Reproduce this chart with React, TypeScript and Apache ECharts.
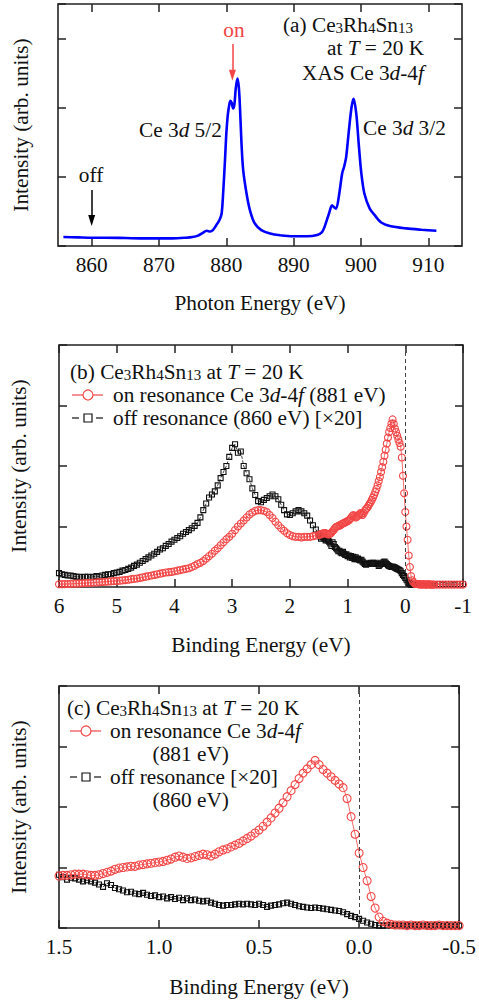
import React, { useEffect, useRef } from "react";
import * as echarts from "echarts";

const FONT = '"Liberation Serif", "Times New Roman", Times, serif';
const RED = "#f24646";
const BLUE = "#0000ff";
const INK = "#111111";

// ---------- (a) XAS Ce 3d-4f ----------
const xasEnergy = [855.8, 858, 860, 862, 865, 868, 870, 872, 874, 875, 875.8, 876.5, 877.1, 877.6, 878.0, 878.5, 879.0, 879.3, 879.5, 879.8, 880.0, 880.2, 880.4, 880.6, 880.8, 881.0, 881.2, 881.4, 881.65, 881.85, 882.0, 882.25, 882.5, 883.0, 883.5, 884.2, 885.2, 886.5, 888, 890, 892, 893.5, 894.2, 894.6, 895.25, 895.7, 896.0, 896.3, 896.7, 897.2, 897.5, 897.8, 898.2, 898.6, 898.9, 899.3, 899.7, 900.05, 900.5, 901.3, 902.0, 903.0, 904.3, 906.7, 909, 911.2];
const xasIntensity = [0.13, 0.125, 0.12, 0.12, 0.115, 0.11, 0.11, 0.11, 0.12, 0.13, 0.15, 0.19, 0.22, 0.21, 0.23, 0.30, 0.38, 0.47, 0.72, 1.24, 1.63, 1.88, 2.02, 2.10, 2.07, 1.99, 2.05, 2.28, 2.42, 2.30, 2.06, 1.49, 1.10, 0.76, 0.52, 0.33, 0.23, 0.18, 0.155, 0.14, 0.14, 0.16, 0.20, 0.28, 0.47, 0.59, 0.56, 0.54, 0.71, 1.05, 1.15, 1.29, 1.67, 2.01, 2.13, 1.91, 1.43, 1.05, 0.76, 0.54, 0.45, 0.34, 0.29, 0.255, 0.235, 0.22];
const xasTicks = [860, 870, 880, 890, 900, 910];
const onArrow = { energy: 880.9, from: 2.92, to: 2.47 };
const offArrow = { energy: 860, from: 0.81, to: 0.37 };

// ---------- (b), (c) valence-band PES ----------
// sampling grid of binding energy (eV), decreasing
const wideStart = 6.0;
const wideStep = 0.05;
const fineStart = 1.5;
const fineStep = 0.02;
const tailStart = -0.55;
const tailStep = 0.05;

const onWide = [
  0.045, 0.047, 0.049, 0.05, 0.052, 0.055, 0.057, 0.06, 0.062, 0.065,
  0.068, 0.07, 0.073, 0.076, 0.08, 0.083, 0.087, 0.09, 0.094, 0.098,
  0.10, 0.105, 0.11, 0.115, 0.12, 0.13, 0.135, 0.14, 0.15, 0.16,
  0.17, 0.18, 0.19, 0.20, 0.21, 0.22, 0.23, 0.24, 0.245, 0.25,
  0.26, 0.27, 0.28, 0.29, 0.30, 0.31, 0.33, 0.35, 0.38, 0.40,
  0.43, 0.47, 0.51, 0.55, 0.60, 0.64, 0.69, 0.74, 0.79, 0.83,
  0.88, 0.94, 1.00, 1.05, 1.10, 1.15, 1.20, 1.23, 1.26, 1.27,
  1.27, 1.26, 1.24, 1.19, 1.14, 1.08, 1.02, 0.97, 0.93, 0.89,
  0.86, 0.84, 0.83, 0.83, 0.82, 0.83, 0.83, 0.83, 0.84, 0.85,
];
const offWide = [
  0.23, 0.21, 0.20, 0.19, 0.19, 0.18, 0.17, 0.17, 0.16, 0.17,
  0.17, 0.16, 0.17, 0.18, 0.17, 0.19, 0.20, 0.21, 0.21, 0.23,
  0.24, 0.25, 0.27, 0.28, 0.30, 0.32, 0.35, 0.37, 0.40, 0.43,
  0.46, 0.49, 0.52, 0.55, 0.58, 0.62, 0.64, 0.68, 0.71, 0.75,
  0.78, 0.81, 0.84, 0.88, 0.91, 0.94, 0.97, 1.01, 1.06, 1.15,
  1.27, 1.38, 1.48, 1.53, 1.58, 1.68, 1.80, 1.90, 2.00, 2.15,
  2.30, 2.36, 2.22, 2.24, 2.00, 1.88, 1.78, 1.63, 1.52, 1.42,
  1.40, 1.44, 1.47, 1.50, 1.53, 1.50, 1.45, 1.36, 1.27, 1.20,
  1.19, 1.22, 1.25, 1.27, 1.25, 1.22, 1.18, 1.10, 1.02, 0.95,
];
const onFine = [
  0.86, 0.87, 0.87, 0.88, 0.89, 0.89, 0.89, 0.88, 0.87, 0.87,
  0.88, 0.90, 0.92, 0.94, 0.97, 0.99, 1.00, 1.01, 1.02, 1.02,
  1.04, 1.05, 1.06, 1.07, 1.08, 1.09, 1.10, 1.12, 1.14, 1.17,
  1.19, 1.17, 1.15, 1.16, 1.18, 1.20, 1.22, 1.21, 1.19, 1.22,
  1.26, 1.29, 1.31, 1.34, 1.37, 1.40, 1.44, 1.48, 1.52, 1.57,
  1.62, 1.68, 1.75, 1.82, 1.90, 1.98, 2.07, 2.17, 2.27, 2.37,
  2.47, 2.56, 2.63, 2.70, 2.77, 2.70, 2.62, 2.56, 2.50, 2.44,
  2.38, 2.32, 2.14, 1.84, 1.55, 1.24, 1.00, 0.78, 0.52, 0.33,
  0.18, 0.11, 0.08, 0.06, 0.05, 0.05, 0.05, 0.04, 0.05, 0.04,
  0.04, 0.05, 0.04, 0.04, 0.04, 0.05, 0.04, 0.04, 0.04, 0.04,
  0.04,
];
const offFine = [
  0.88, 0.84, 0.80, 0.83, 0.82, 0.80, 0.77, 0.79, 0.77, 0.75,
  0.72, 0.68, 0.74, 0.71, 0.66, 0.64, 0.62, 0.59, 0.60, 0.57,
  0.56, 0.58, 0.55, 0.53, 0.54, 0.51, 0.52, 0.49, 0.51, 0.48,
  0.50, 0.46, 0.49, 0.46, 0.47, 0.45, 0.44, 0.45, 0.42, 0.40,
  0.38, 0.37, 0.38, 0.38, 0.39, 0.40, 0.39, 0.40, 0.39, 0.38,
  0.40, 0.38, 0.35, 0.37, 0.38, 0.39, 0.41, 0.42, 0.40, 0.38,
  0.36, 0.35, 0.34, 0.33, 0.34, 0.33, 0.32, 0.31, 0.30, 0.29,
  0.28, 0.26, 0.23, 0.20, 0.18, 0.15, 0.12, 0.09, 0.07, 0.05,
  0.04, 0.04, 0.05, 0.04, 0.05, 0.05, 0.04, 0.05, 0.04, 0.05,
  0.05, 0.04, 0.05, 0.04, 0.05, 0.05, 0.04, 0.05, 0.04, 0.05,
  0.04,
];
const onTail = [0.04, 0.04, 0.04, 0.04, 0.04, 0.04, 0.04, 0.04, 0.04, 0.04];
const offTail = [0.05, 0.05, 0.04, 0.05, 0.05, 0.05, 0.04, 0.05, 0.05, 0.05];

const bTicksInterval = 1;
const cTicksInterval = 0.5;

function onGrid(start: number, step: number, values: number[]) {
  return values.map((v, i) => [Math.round((start - i * step) * 1000) / 1000, v]);
}
const onData = [
  ...onGrid(wideStart, wideStep, onWide),
  ...onGrid(fineStart, fineStep, onFine),
  ...onGrid(tailStart, tailStep, onTail),
];
const offData = [
  ...onGrid(wideStart, wideStep, offWide),
  ...onGrid(fineStart, fineStep, offFine),
  ...onGrid(tailStart, tailStep, offTail),
];
const inC = (p: number[]) => p[0] <= 1.5 + 1e-9 && p[0] >= -0.5 - 1e-9;

const xasData = xasEnergy.map((e, i) => [e, xasIntensity[i]]);

// ---------- text helpers ----------
const FS = 21.3;
function makeRich(lh: number) {
  return {
    n: { fontFamily: FONT, fontSize: FS, lineHeight: lh, fill: INK, color: INK },
    i: { fontFamily: FONT, fontSize: FS, fontStyle: "italic", lineHeight: lh, fill: INK, color: INK },
    s: { fontFamily: FONT, fontSize: 15, lineHeight: 11, verticalAlign: "bottom", fill: INK, color: INK },
  };
}
const NB = "\u00a0";
const indent = NB.repeat(8);

function txt(text: string, x: number, y: number, align = "left", color = INK, lh = 21.3) {
  return {
    type: "text",
    x,
    y,
    silent: true,
    style: {
      text,
      rich: makeRich(lh),
      fontFamily: FONT,
      fontSize: FS,
      lineHeight: lh,
      fill: color,
      align,
      textAlign: align,
      verticalAlign: "middle",
      textVerticalAlign: "middle",
    },
  };
}

const tick = { show: true, inside: true, length: 8, lineStyle: { color: "#222", width: 1.5 } };
const lbl = { fontFamily: FONT, fontSize: FS, color: INK };

function xPair(grid: number, min: number, max: number, extra: any, name: string, nameGap: number, labelExtra: any) {
  const base = {
    type: "value",
    gridIndex: grid,
    min,
    max,
    axisLine: { show: false, onZero: false },
    splitLine: { show: false },
    ...extra,
  };
  return [
    {
      ...base,
      position: "bottom",
      axisTick: { ...tick, ...(extra.customValues ? { customValues: extra.customValues } : {}) },
      axisLabel: { ...lbl, margin: 8, ...labelExtra },
      name,
      nameLocation: "middle",
      nameGap,
      nameTextStyle: lbl,
    },
    {
      ...base,
      position: "top",
      axisTick: { ...tick, ...(extra.customValues ? { customValues: extra.customValues } : {}) },
      axisLabel: { show: false },
    },
  ];
}

function yPair(grid: number, max: number, nameGap: number) {
  const base = {
    type: "value",
    gridIndex: grid,
    min: 0,
    max,
    interval: 1,
    axisLine: { show: false, onZero: false },
    splitLine: { show: false },
    axisTick: tick,
    axisLabel: { show: false },
  };
  return [
    {
      ...base,
      position: "left",
      name: "Intensity (arb. units)",
      nameLocation: "middle",
      nameRotate: 90,
      nameGap,
      nameTextStyle: lbl,
    },
    { ...base, position: "right" },
  ];
}

function onSeries(x: number, y: number, data: number[][], size: number, withZero: boolean) {
  return {
    type: "line",
    xAxisIndex: x,
    yAxisIndex: y,
    data,
    symbol: "circle",
    symbolSize: size,
    showAllSymbol: true,
    itemStyle: { color: "rgba(255,255,255,0)", borderColor: RED, borderWidth: 1.1 },
    lineStyle: { color: RED, width: 0.8 },
    emphasis: { disabled: true },
    z: 3,
    markLine: withZero
      ? {
          silent: true,
          symbol: "none",
          label: { show: false },
          lineStyle: { type: [4, 3], color: "#444", width: 1 },
          data: [{ xAxis: 0 }],
        }
      : undefined,
  };
}

function offSeries(x: number, y: number, data: number[][], size: number) {
  return {
    type: "line",
    xAxisIndex: x,
    yAxisIndex: y,
    data,
    symbol: "rect",
    symbolSize: size,
    showAllSymbol: true,
    itemStyle: { color: "rgba(255,255,255,0)", borderColor: "#111", borderWidth: 1.1 },
    lineStyle: { color: "#111", width: 0.8, type: "dashed" },
    emphasis: { disabled: true },
    z: 2,
  };
}

function legendOn(x: number, y: number) {
  return [
    { type: "line", silent: true, shape: { x1: x, y1: y, x2: x + 31, y2: y }, style: { stroke: RED, lineWidth: 1.2 } },
    { type: "circle", silent: true, shape: { cx: x + 16, cy: y, r: 5 }, style: { fill: "#fff", stroke: RED, lineWidth: 1.2 } },
  ];
}
function legendOff(x: number, y: number) {
  return [
    { type: "line", silent: true, shape: { x1: x, y1: y, x2: x + 7, y2: y }, style: { stroke: "#111", lineWidth: 1.2 } },
    { type: "line", silent: true, shape: { x1: x + 24, y1: y, x2: x + 31, y2: y }, style: { stroke: "#111", lineWidth: 1.2 } },
    { type: "rect", silent: true, shape: { x: x + 12, y: y - 4, width: 8, height: 8 }, style: { fill: "#fff", stroke: "#111", lineWidth: 1.2 } },
  ];
}

const chem = `{n|Ce}{s|3}{n|Rh}{s|4}{n|Sn}{s|13}`;
const onLabel = `{n|on resonance Ce 3}{i|d}{n|-4}{i|f}`;

function buildOption() {
  const gridBase = { show: true, borderColor: "#222", borderWidth: 1.6, backgroundColor: "rgba(0,0,0,0)" };
  return {
    animation: false,
    backgroundColor: "#fff",
    grid: [
      { ...gridBase, left: 58, top: 4, width: 404, height: 242 },
      { ...gridBase, left: 58, top: 345, width: 405, height: 242 },
      { ...gridBase, left: 57, top: 686, width: 405, height: 242 },
    ],
    xAxis: [
      ...xPair(0, 855, 915, { customValues: xasTicks }, "Photon Energy (eV)", 46, { customValues: xasTicks }),
      ...xPair(1, -1, 6, { interval: bTicksInterval, inverse: true }, "Binding Energy (eV)", 47, {}),
      ...xPair(2, -0.5, 1.5, { interval: cTicksInterval, inverse: true }, "Binding Energy (eV)", 48, {
        formatter: (v: number) => v.toFixed(1),
      }),
    ],
    yAxis: [...yPair(0, 3.5, 27), ...yPair(1, 4, 30), ...yPair(2, 4, 30)],
    series: [
      {
        type: "line",
        xAxisIndex: 0,
        yAxisIndex: 0,
        data: xasData,
        showSymbol: false,
        smooth: 0.3,
        lineStyle: { color: BLUE, width: 2.6 },
        emphasis: { disabled: true },
        markLine: {
          silent: true,
          symbol: ["none", "triangle"],
          symbolSize: [7, 11],
          label: { show: false },
          data: [
            [
              { coord: [onArrow.energy, onArrow.from], lineStyle: { color: RED, width: 1.5, type: "solid" }, itemStyle: { color: RED } },
              { coord: [onArrow.energy, onArrow.to] },
            ],
            [
              { coord: [offArrow.energy, offArrow.from], lineStyle: { color: "#000", width: 1.5, type: "solid" }, itemStyle: { color: "#000" } },
              { coord: [offArrow.energy, offArrow.to] },
            ],
          ],
        },
      },
      offSeries(2, 2, offData, 5),
      onSeries(2, 2, onData, 7, true),
      offSeries(4, 4, offData.filter(inC), 5),
      onSeries(4, 4, onData.filter(inC), 8, true),
    ],
    graphic: [
      // panel (a)
      txt(`{n|(a) }${chem}`, 283, 25),
      txt(`{n|at }{i|T}{n|${NB}= 20 K}`, 327, 48),
      txt(`{n|XAS Ce 3}{i|d}{n|-4}{i|f}`, 302, 73),
      txt(`{n|Ce 3}{i|d}{n|${NB}5/2}`, 139, 130),
      txt(`{n|Ce 3}{i|d}{n|${NB}3/2}`, 363, 128),
      txt("on", 234, 30, "center", RED),
      txt("off", 91, 175, "center", INK),
      // panel (b)
      txt(`{n|(b) }${chem}{n|${NB}at }{i|T}{n|${NB}= 20 K}`, 70, 372),
      ...legendOn(72, 395),
      ...legendOff(72, 418),
      txt(`${onLabel}{n|${NB}(881 eV)}\n{n|off resonance (860 eV) [×20]}`, 113, 406.5, "left", INK, 23.5),
      // panel (c)
      txt(`{n|(c) }${chem}{n|${NB}at }{i|T}{n|${NB}= 20 K}`, 67, 708),
      ...legendOn(70, 731),
      ...legendOff(70, 777),
      txt(
        `${onLabel}\n{n|${indent}(881 eV)}\n{n|off resonance [×20]}\n{n|${indent}(860 eV)}`,
        110,
        765.5,
        "left",
        INK,
        23
      ),
    ],
  };
}

export default function App() {
  const ref = useRef<HTMLDivElement>(null);
  useEffect(() => {
    if (!ref.current) return;
    const chart = echarts.init(ref.current, null, { renderer: "svg" });
    chart.setOption(buildOption() as any);
    return () => chart.dispose();
  }, []);
  return (
    <div
      ref={ref}
      style={{ position: "absolute", left: 0, top: 0, width: 479, height: 1003, background: "#fff" }}
    />
  );
}
